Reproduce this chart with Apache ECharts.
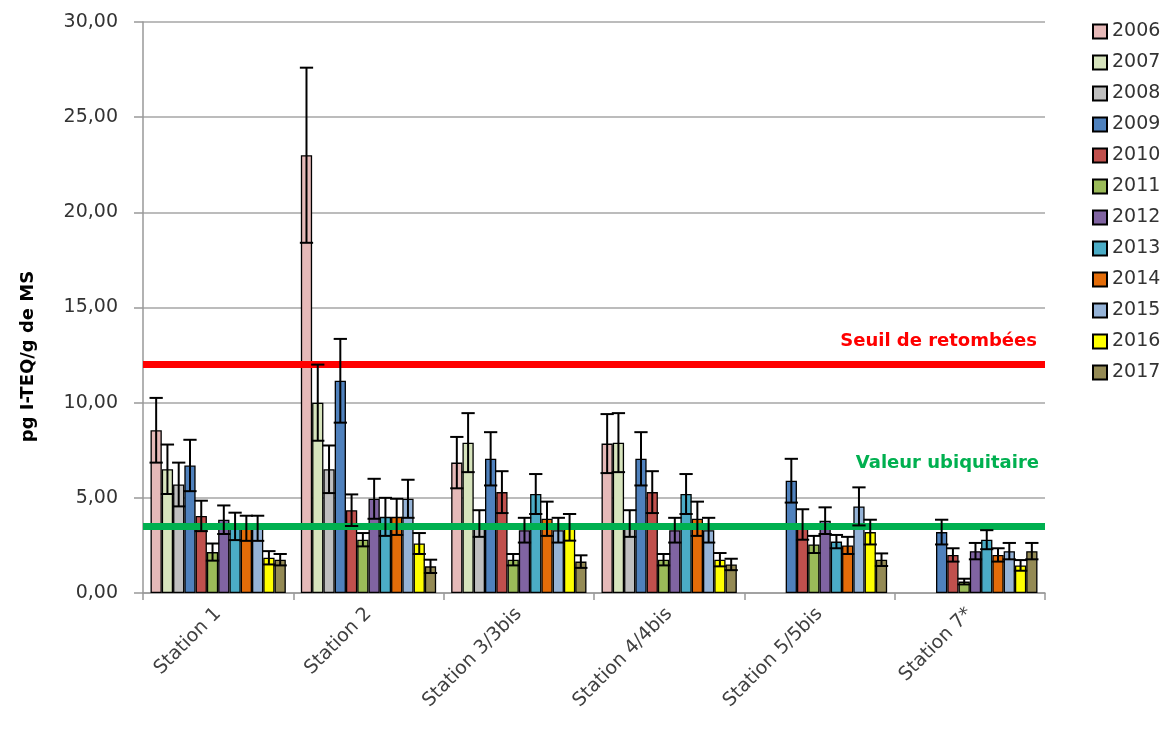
<!DOCTYPE html>
<html>
<head>
<meta charset="utf-8">
<script src="https://cdn.jsdelivr.net/npm/echarts@6/dist/echarts.min.js"></script>
<style>
  html, body { margin: 0; padding: 0; background: #fff; }
  #chart { width: 1173px; height: 733px; }
</style>
</head>
<body>
<div id="chart"></div>
<script>
  // stations and years
  const stations = ['Station 1', 'Station 2', 'Station 3/3bis', 'Station 4/4bis', 'Station 5/5bis', 'Station 7*'];
  const years = ['2006', '2007', '2008', '2009', '2010', '2011', '2012', '2013', '2014', '2015', '2016', '2017'];
  const colors = ['#E6B9B8', '#D7E4BD', '#BFBFBF', '#4F81BD', '#C0504D', '#9BBB59',
                  '#8064A2', '#4BACC6', '#E36C09', '#95B3D7', '#FFFF00', '#948A54'];

  // mean values per station, one entry per year (2006..2017)
  const valS1 = [8.55, 6.5, 5.7, 6.7, 4.05, 2.15, 3.85, 3.5, 3.4, 3.4, 1.85, 1.75];
  const valS2 = [23.0, 10.0, 6.5, 11.15, 4.35, 2.8, 4.95, 4.0, 4.0, 4.95, 2.6, 1.4];
  const valS3 = [6.85, 7.9, 3.65, 7.05, 5.3, 1.75, 3.3, 5.2, 3.9, 3.3, 3.45, 1.65];
  const valS4 = [7.85, 7.9, 3.65, 7.05, 5.3, 1.75, 3.3, 5.2, 3.9, 3.3, 1.75, 1.5];
  const valS5 = [null, null, null, 5.9, 3.6, 2.55, 3.8, 2.7, 2.5, 4.55, 3.2, 1.75];
  const valS7 = [null, null, null, 3.2, 2.0, 0.6, 2.2, 2.8, 2.0, 2.2, 1.45, 2.2];

  // error bar half-widths
  const errS1 = [1.7, 1.3, 1.15, 1.35, 0.8, 0.45, 0.75, 0.72, 0.66, 0.66, 0.35, 0.3];
  const errS2 = [4.6, 2.0, 1.25, 2.2, 0.83, 0.35, 1.05, 1.0, 0.95, 1.0, 0.55, 0.35];
  const errS3 = [1.35, 1.55, 0.7, 1.4, 1.1, 0.3, 0.65, 1.05, 0.9, 0.65, 0.7, 0.33];
  const errS4 = [1.55, 1.55, 0.7, 1.4, 1.1, 0.3, 0.65, 1.05, 0.9, 0.65, 0.35, 0.3];
  const errS5 = [null, null, null, 1.15, 0.8, 0.45, 0.7, 0.35, 0.45, 1.0, 0.65, 0.33];
  const errS7 = [null, null, null, 0.65, 0.35, 0.15, 0.43, 0.5, 0.35, 0.43, 0.28, 0.43];

  const seuil = 12;
  const ubiquitaire = 3.5;

  const values = [valS1, valS2, valS3, valS4, valS5, valS7];
  const errors = [errS1, errS2, errS3, errS4, errS5, errS7];

  const catGap = 0.10;
  const font = 'DejaVu Sans';

  let series = [];
  years.forEach(function (y, yi) {
    series.push({
      name: y,
      type: 'bar',
      barGap: 0,
      barCategoryGap: (catGap * 100) + '%',
      itemStyle: { color: colors[yi], borderColor: '#000', borderWidth: 1.3 },
      data: values.map(function (v) { return v[yi]; })
    });
  });

  let errData = [];
  values.forEach(function (v, si) {
    v.forEach(function (val, yi) {
      if (val != null) errData.push([si, yi, val, errors[si][yi]]);
    });
  });

  series.push({
    type: 'custom',
    z: 5,
    data: errData,
    encode: { x: 0, y: 2 },
    renderItem: function (params, api) {
      const cat = api.value(0), yi = api.value(1), v = api.value(2), e = api.value(3);
      const band = api.size([1, 0])[0];
      const barW = band * (1 - catGap) / years.length;
      const x = api.coord([cat, 0])[0] - band * (1 - catGap) / 2 + (yi + 0.5) * barW;
      const yTop = api.coord([cat, v + e])[1];
      const yBot = api.coord([cat, v - e])[1];
      const half = barW / 2 + 1;
      const style = { stroke: '#000', lineWidth: 2 };
      return {
        type: 'group',
        children: [
          { type: 'line', shape: { x1: x, y1: yTop, x2: x, y2: yBot }, style: style },
          { type: 'line', shape: { x1: x - half, y1: yTop, x2: x + half, y2: yTop }, style: style },
          { type: 'line', shape: { x1: x - half, y1: yBot, x2: x + half, y2: yBot }, style: style }
        ]
      };
    }
  });

  series.push({
    type: 'line',
    data: [],
    z: 10,
    markLine: {
      silent: true,
      symbol: 'none',
      data: [
        {
          yAxis: seuil,
          lineStyle: { color: '#FF0000', width: 7, type: 'solid' },
          label: {
            show: true, position: 'insideEndTop', formatter: 'Seuil de retombées',
            color: '#FF0000', fontWeight: 'bold', fontSize: 18, fontFamily: font,
            distance: [8, 14]
          }
        },
        {
          yAxis: ubiquitaire,
          lineStyle: { color: '#00B050', width: 7, type: 'solid' },
          label: {
            show: true, position: 'insideEndTop', formatter: 'Valeur ubiquitaire',
            color: '#00B050', fontWeight: 'bold', fontSize: 18, fontFamily: font,
            distance: [6, 54]
          }
        }
      ]
    }
  });

  const chart = echarts.init(document.getElementById('chart'));
  chart.setOption({
    animation: false,
    textStyle: { fontFamily: font },
    grid: { left: 143, right: 128, top: 22, bottom: 140 },
    legend: {
      data: years,
      orient: 'vertical',
      left: 1087,
      top: 17,
      itemWidth: 14,
      itemHeight: 14,
      itemGap: 12,
      icon: 'rect',
      textStyle: { fontSize: 19, color: '#333', fontFamily: font }
    },
    xAxis: {
      type: 'category',
      data: stations,
      axisLine: { lineStyle: { color: '#999', width: 1.5 } },
      axisTick: { show: true, length: 7, lineStyle: { color: '#999', width: 1.5 } },
      axisLabel: { rotate: 45, interval: 0, margin: 18, fontSize: 19, color: '#404040', fontFamily: font }
    },
    yAxis: {
      type: 'value',
      min: 0,
      max: 30,
      interval: 5,
      name: 'pg I-TEQ/g de MS',
      nameLocation: 'middle',
      nameGap: 106,
      nameTextStyle: { fontSize: 18, fontWeight: 'bold', color: '#000', fontFamily: font, padding: [0, 98, 0, 0] },
      axisLine: { show: true, lineStyle: { color: '#999', width: 1.5 } },
      axisTick: { show: true, inside: false, length: 9, lineStyle: { color: '#999', width: 1.5 } },
      splitLine: { lineStyle: { color: '#A6A6A6', width: 1.5 } },
      axisLabel: {
        margin: 25, fontSize: 19, color: '#333', fontFamily: font,
        formatter: function (v) { return v.toFixed(2).replace('.', ','); }
      }
    },
    series: series
  });
</script>
</body>
</html>
